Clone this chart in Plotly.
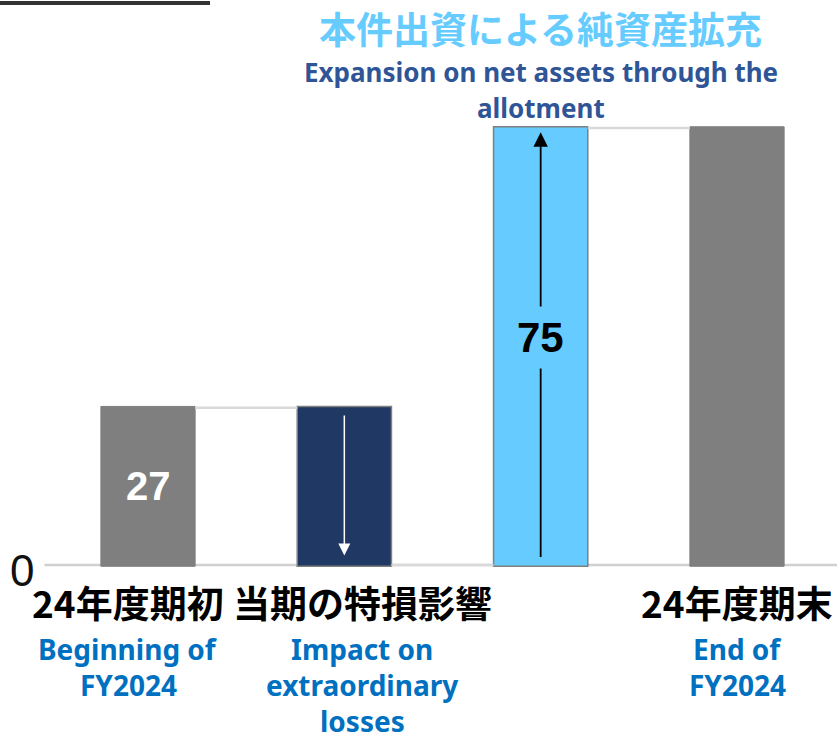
import plotly.graph_objects as go

# ---- data ----
categories_ja = ["24年度期初", "当期の特損影響", "本件出資", "24年度期末"]
categories_en = [["Beginning of", "FY2024"], ["Impact on", "extraordinary", "losses"], [], ["End of", "FY2024"]]
measures = ["absolute", "relative", "relative", "total"]
values = [27, -27, 75, 0]
title_ja = "本件出資による純資産拡充"
title_en = ["Expansion on net assets through the", "allotment"]

GRAY = "#7f7f7f"
NAVY = "#203864"
LBLUE = "#66ccff"
JP_FONT = "Noto Sans CJK JP"

xs = list(range(len(values)))

fig = go.Figure()
fig.add_trace(go.Waterfall(
    x=xs, y=values, measure=measures, width=0.48,
    base=0,
    decreasing=dict(marker=dict(color=NAVY, line=dict(color=GRAY, width=1.5))),
    increasing=dict(marker=dict(color=LBLUE, line=dict(color=GRAY, width=1.5))),
    totals=dict(marker=dict(color=GRAY, line=dict(color=GRAY, width=1))),
    connector=dict(mode="between", line=dict(color="#d9d9d9", width=2.5)),
    textinfo="none", hoverinfo="skip", showlegend=False,
))

start = values[0]
gain = values[2]

anns = []
# bar value labels
anns.append(dict(x=0, y=start / 2, xref="x", yref="y", text=f"<b>{start}</b>", showarrow=False,
                 font=dict(family="Liberation Sans", size=40, color="white")))
# navy down arrow
anns.append(dict(x=1, y=start * 0.06, ax=1, ay=start * 0.96,
                 xref="x", yref="y", axref="x", ayref="y", text="", showarrow=True,
                 arrowhead=2, arrowsize=1.6, arrowwidth=1.5, arrowcolor="white"))
# light blue up arrow
anns.append(dict(x=2, y=gain * 0.99, ax=2, ay=gain * 0.015,
                 xref="x", yref="y", axref="x", ayref="y", text="", showarrow=True,
                 arrowhead=2, arrowsize=1.6, arrowwidth=1.8, arrowcolor="black"))
anns.append(dict(x=2, y=gain / 2 + 1.5, xref="x", yref="y", text=f"<b>{gain}</b>", showarrow=False,
                 bgcolor=LBLUE, borderpad=7,
                 font=dict(family="Liberation Sans", size=42, color="black")))

# category labels (pixel offsets below the zero line)
shifts = [-20, 18, 0, 0]
en_offsets = [-84, -120, -156]
for i, (ja, en_lines) in enumerate(zip(categories_ja, categories_en)):
    if i == 2:
        continue
    anns.append(dict(x=i, xshift=shifts[i], y=0, yref="y", xref="x", yshift=-37,
                     text=f"<b>{ja}</b>", showarrow=False, yanchor="middle",
                     font=dict(family=JP_FONT, size=37, color="black")))
    for k, line in enumerate(en_lines):
        anns.append(dict(x=i, xshift=shifts[i], y=0, yref="y", xref="x", yshift=en_offsets[k],
                         text=f"<b>{line}</b>", showarrow=False, yanchor="middle",
                         font=dict(family="Noto Sans", size=28, color="#0070c0")))

# zero tick label
anns.append(dict(x=22 / 837, xref="paper", xanchor="center", y=0, yref="y", yshift=-5, text="0",
                 showarrow=False,
                 font=dict(family="Liberation Sans Narrow, Liberation Sans", size=44, color="#111")))

# titles
anns.append(dict(x=2, xref="x", y=1 - 28 / 739, yref="paper", text=f"<b>{title_ja}</b>",
                 showarrow=False, yanchor="middle",
                 font=dict(family=JP_FONT, size=37, color=LBLUE)))
for k, line in enumerate(title_en):
    anns.append(dict(x=2, xref="x", y=1 - (72 + 36 * k) / 739, yref="paper", text=f"<b>{line}</b>",
                     showarrow=False, yanchor="middle",
                     font=dict(family="Noto Sans", size=26, color="#2f5597")))

shapes = [
    dict(type="line", xref="paper", yref="y", x0=0.053, x1=1, y0=0, y1=0,
         line=dict(color="#d0d0d0", width=2.5), layer="below"),
    dict(type="line", xref="paper", yref="paper", x0=0, x1=210 / 837, y0=1 - 3 / 739, y1=1 - 3 / 739,
         line=dict(color="#333", width=4)),
]

px_per_unit = (565 - 128) / 75.0
ymax = 75 + 128 / px_per_unit
ymin = -(739 - 565) / px_per_unit
ppx = (737 - 148) / 3.0
xmin = -148 / ppx
xmax = 3 + (837 - 737) / ppx

fig.update_layout(
    width=837, height=739, margin=dict(l=0, r=0, t=0, b=0),
    paper_bgcolor="white", plot_bgcolor="white",
    xaxis=dict(range=[xmin, xmax], visible=False, fixedrange=True),
    yaxis=dict(range=[ymin, ymax], visible=False, fixedrange=True),
    annotations=anns, shapes=shapes,
)
fig.write_html("out.html", post_script="document.body.style.margin='0';",
               config={"displayModeBar": False})
